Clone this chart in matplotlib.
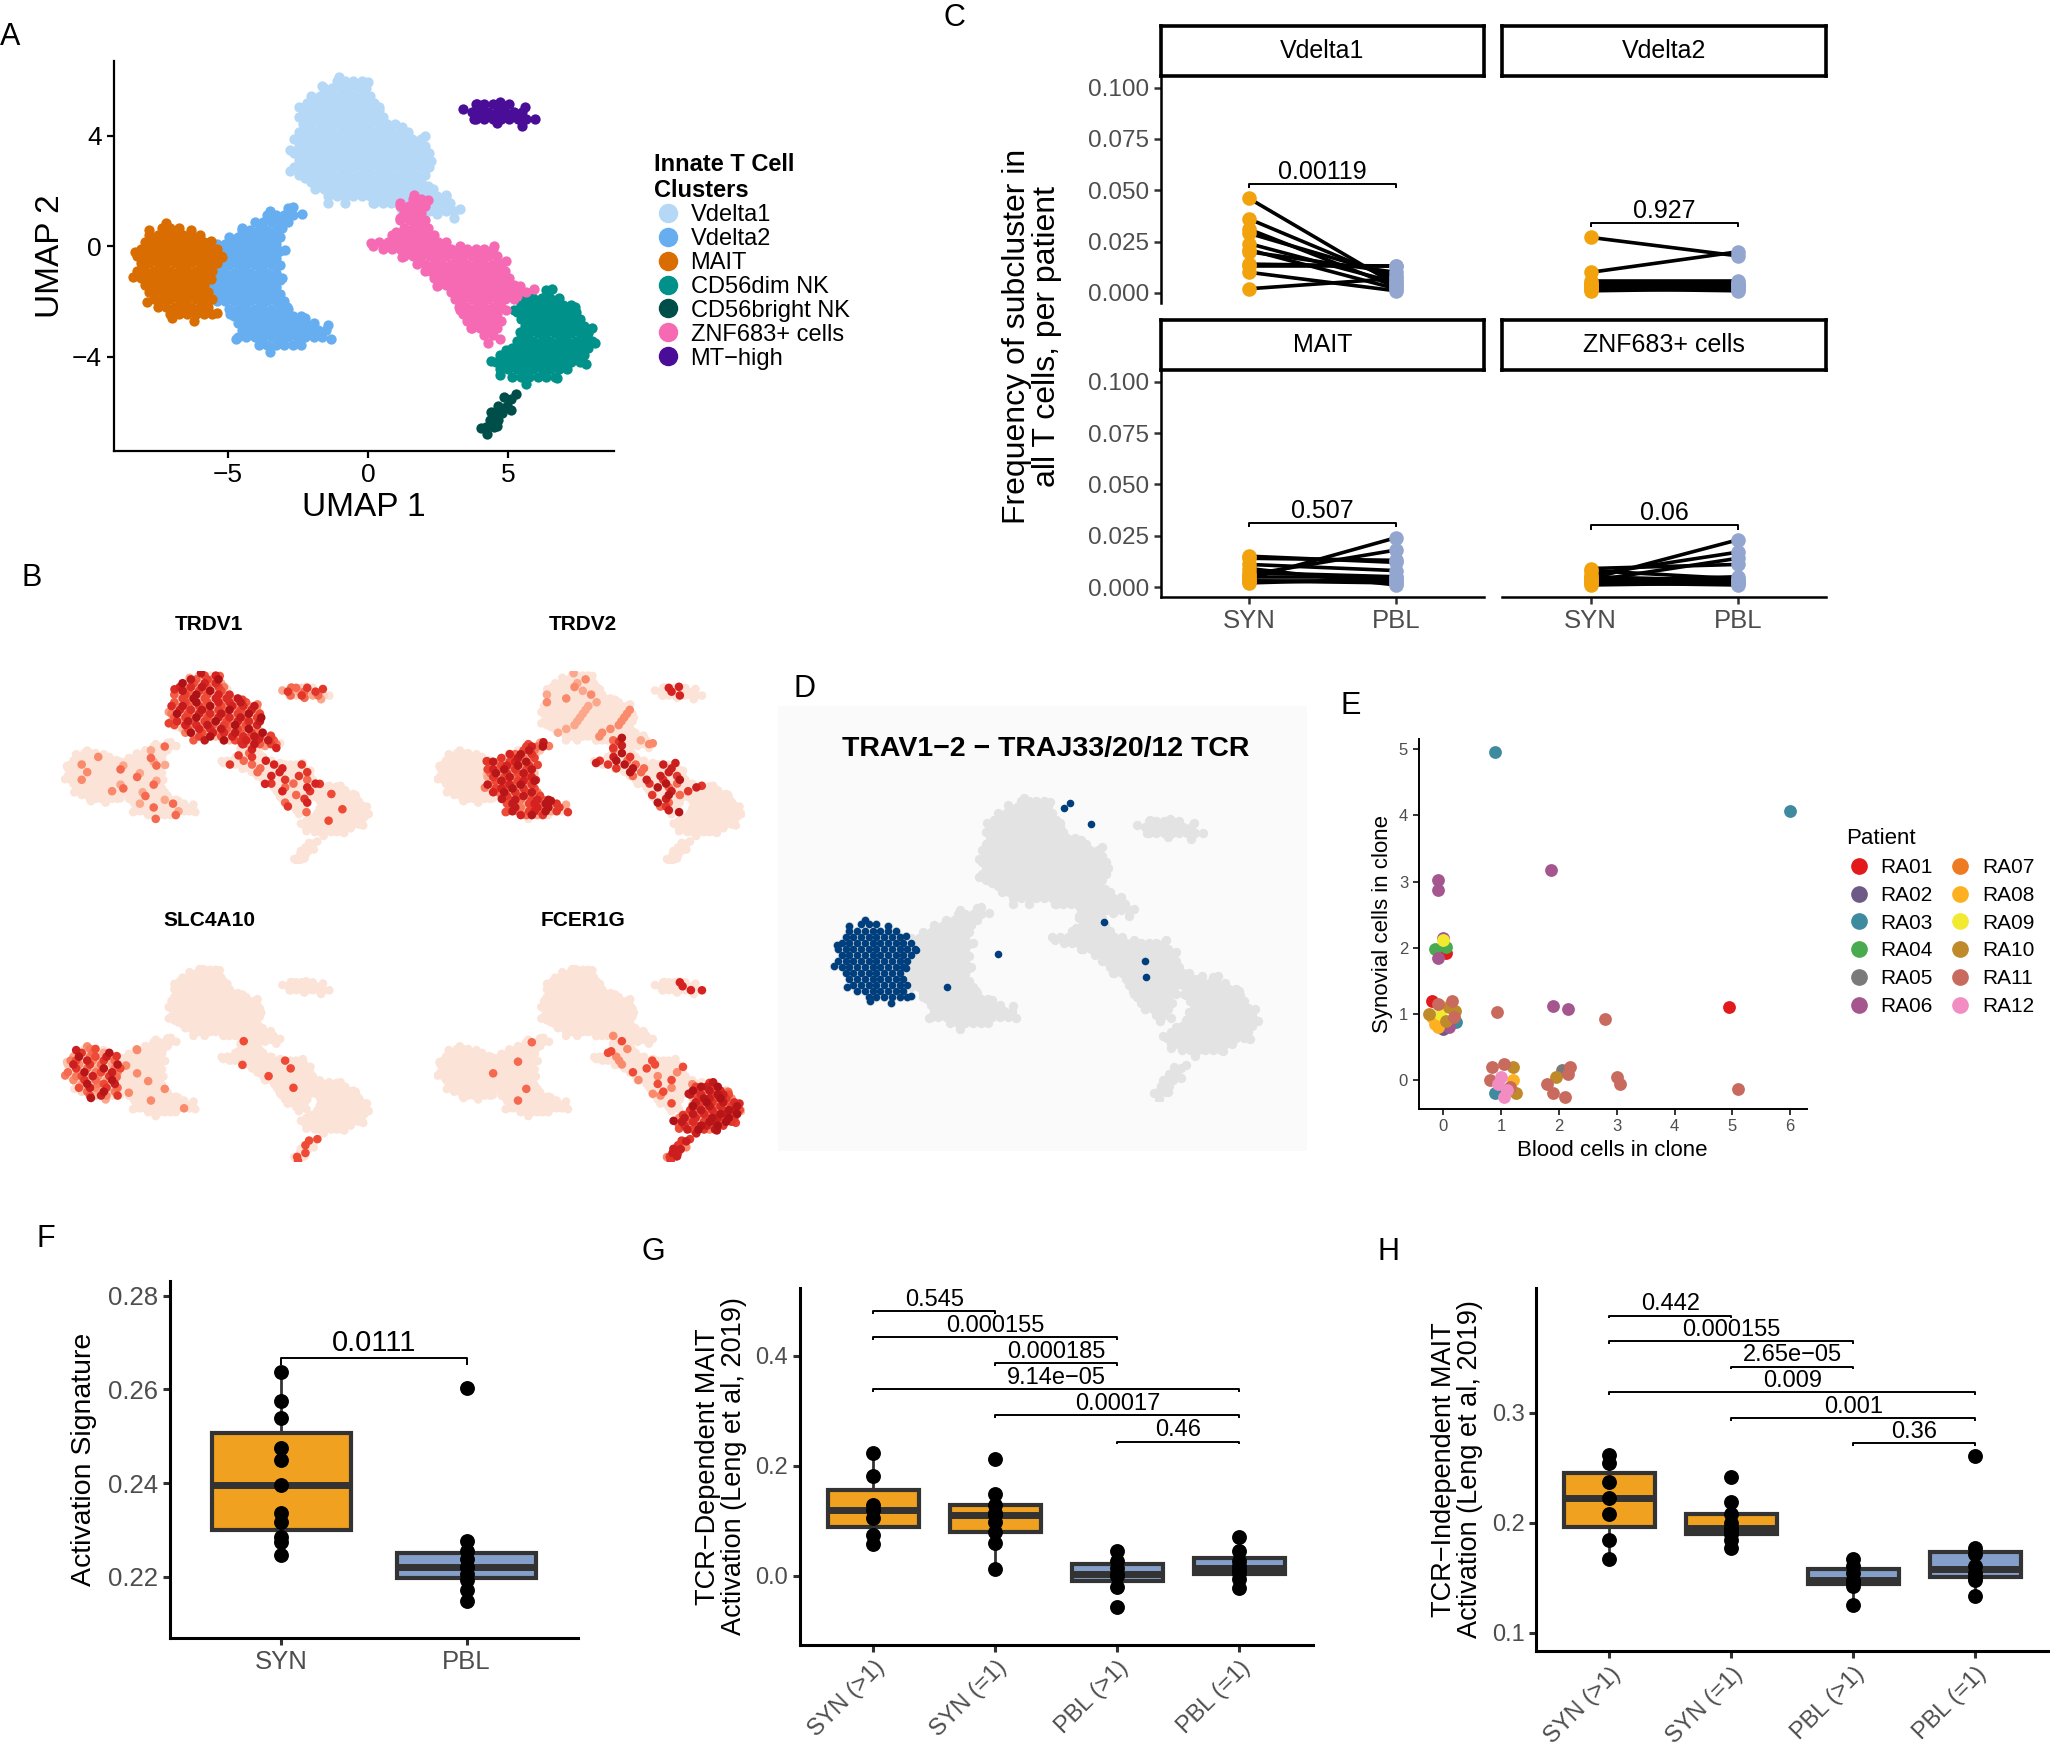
import numpy as np
import matplotlib
matplotlib.use("Agg")
import matplotlib.pyplot as plt
from matplotlib.path import Path
from matplotlib.colors import LinearSegmentedColormap
from matplotlib.lines import Line2D

plt.rcParams['font.family'] = ['Liberation Sans', 'DejaVu Sans']

# ---------------- data ----------------
# UMAP cluster outlines
clusters = ['Vdelta1', 'Vdelta2', 'MAIT', 'CD56dim NK', 'CD56bright NK', 'ZNF683+ cells', 'MT\u2212high']
cluster_colors = ['#B5D8F7', '#66AEF0', '#D96D02', '#00918A', '#004E4A', '#F66AB3', '#4A0D98']
outline_vd1 = [(-2.77, 3.48), (-2.46, 5.03), (-1.64, 5.81), (-1.02, 6.13), (0.0, 5.94), (0.41, 5.03),
               (1.23, 4.32), (2.05, 4.0), (2.25, 3.10), (2.15, 2.19), (2.77, 1.87), (3.28, 1.35),
               (3.07, 1.03), (2.46, 1.16), (1.23, 1.29), (0.2, 1.55), (-0.82, 1.55), (-1.43, 1.55),
               (-2.25, 2.45), (-2.77, 2.71)]
outline_vd2 = [(-5.74, 0.13), (-4.51, 0.65), (-3.48, 1.29), (-2.66, 1.42), (-2.36, 1.16), (-3.07, 0.65),
               (-2.97, -0.13), (-3.07, -1.16), (-2.87, -2.19), (-2.25, -2.58), (-1.43, -2.84),
               (-1.33, -3.35), (-3.48, -3.81), (-4.71, -3.35), (-4.92, -2.45), (-5.84, -1.68), (-5.74, -0.77)]
outline_mait = [(-8.3, -0.2), (-7.8, 0.6), (-7.2, 0.85), (-6.3, 0.6), (-5.6, 0.2), (-5.2, -0.4),
                (-5.6, -1.2), (-5.4, -2.4), (-6.2, -2.7), (-7.0, -2.6), (-7.9, -2.0), (-8.4, -1.1)]
outline_nkdim = [(5.43, -1.68), (6.56, -1.55), (7.38, -2.19), (7.99, -2.97), (8.09, -3.48), (7.79, -4.26),
                 (6.76, -4.77), (5.64, -4.97), (4.71, -4.65), (4.41, -4.13), (4.92, -3.74), (5.43, -3.10),
                 (5.23, -2.32)]
outline_nkbright = [(5.3, -5.35), (5.1, -5.9), (4.6, -6.5), (4.25, -6.8), (4.05, -6.55), (4.4, -6.0),
                    (4.85, -5.45)]
outline_znf = [(1.13, 1.55), (1.64, 1.87), (2.15, 1.68), (2.15, 0.65), (3.28, 0.0), (4.51, 0.0),
               (4.92, -0.52), (5.43, -1.42), (5.94, -1.55), (5.33, -1.81), (4.92, -2.32), (4.71, -3.35),
               (4.30, -3.48), (3.69, -2.97), (3.28, -2.32), (2.46, -1.42), (2.05, -0.90), (1.23, -0.39),
               (0.2, 0.0), (0.1, 0.13), (1.02, 0.52), (1.13, 1.03)]
outline_mt = [(3.4, 4.95), (3.9, 5.15), (4.7, 5.2), (5.6, 5.05), (5.95, 4.6), (5.5, 4.35), (4.6, 4.45),
              (3.8, 4.6)]
outlines = [outline_vd1, outline_vd2, outline_mait, outline_nkdim, outline_nkbright, outline_znf, outline_mt]

# per-cell expression levels in panel B (cycled over cells of each cluster)
expr_trdv1 = [[0.75, 0.3, 0.9, 0.55, 0.0, 0.65, 0.45, 1.0, 0.2, 0.6, 0.0, 0.8, 0.35],
              [0] * 5 + [0.5] + [0] * 8 + [0.3],
              [0] * 19 + [0.4], [0] * 30 + [0.6], [0],
              [0, 0, 0.7, 0, 0, 0, 0.5, 0, 0, 0, 0.8, 0, 0], [0.5, 0.1, 0.7, 0.0, 0.3]]
expr_trdv2 = [[0] * 6 + [0.4] + [0] * 8 + [0.3, 0], [0.8, 0.5, 0.95, 0.3, 0.7, 0.0, 0.6, 0.9, 0.45, 0.2, 0.65],
              [0], [0], [0],
              [0.85, 0, 0, 0.7, 0, 0, 0.95, 0, 0.5, 0, 0, 0, 0], [0, 0, 0, 0.8, 0, 0]]
expr_slc4a10 = [[0], [0] * 15 + [0.4], [0.6, 0.2, 0.85, 0.4, 0.0, 0.7, 0.1, 0.5, 0, 0.3, 0.95, 0, 0.45],
                [0], [0.6, 0, 0], [0] * 25 + [0.6], [0]]
expr_fcer1g = [[0], [0] * 30 + [0.5], [0], [0.85, 0.6, 1.0, 0.7, 0.4, 0.9, 0.5, 0.75, 0.2, 0.65, 0.95],
               [0.7, 0.4, 0.85],
               [0] * 4 + [0.6] + [0] * 7 + [0.4, 0], [0, 0, 0, 0, 0, 0.8]]
genes = ['TRDV1', 'TRDV2', 'SLC4A10', 'FCER1G']
gene_expr = [expr_trdv1, expr_trdv2, expr_slc4a10, expr_fcer1g]

# panel D: TRAV1-2 TCR cells outside the MAIT cluster
d_extra_x = [0.55, 0.8, 1.6, -2.0, 2.1, 3.7, 3.75, -4.0]
d_extra_y = [5.7, 5.9, 5.0, -0.6, 0.8, -0.9, -1.6, -2.0]

# panel C: frequency per patient
c_facets = ['Vdelta1', 'Vdelta2', 'MAIT', 'ZNF683+ cells']
c_syn = [[0.046, 0.036, 0.031, 0.029, 0.024, 0.021, 0.020, 0.014, 0.013, 0.010, 0.002],
         [0.027, 0.010, 0.006, 0.005, 0.004, 0.004, 0.003, 0.003, 0.002, 0.002, 0.001],
         [0.015, 0.014, 0.011, 0.009, 0.007, 0.006, 0.005, 0.004, 0.003, 0.003, 0.002],
         [0.009, 0.008, 0.006, 0.005, 0.004, 0.004, 0.003, 0.003, 0.002, 0.002, 0.001]]
c_pbl = [[0.004, 0.006, 0.003, 0.008, 0.005, 0.002, 0.010, 0.013, 0.013, 0.001, 0.007],
         [0.018, 0.020, 0.006, 0.004, 0.005, 0.003, 0.002, 0.004, 0.001, 0.003, 0.002],
         [0.012, 0.013, 0.008, 0.001, 0.005, 0.018, 0.005, 0.024, 0.002, 0.003, 0.004],
         [0.011, 0.004, 0.017, 0.003, 0.023, 0.002, 0.014, 0.005, 0.001, 0.003, 0.002]]
c_pvals = ['0.00119', '0.927', '0.507', '0.06']

# panel E: clone sizes (jittered positions as drawn)
patients = ['RA01', 'RA02', 'RA03', 'RA04', 'RA05', 'RA06', 'RA07', 'RA08', 'RA09', 'RA10', 'RA11', 'RA12']
patient_colors = ['#E31A1C', '#6E5A87', '#3E8A9F', '#4AAA4F', '#7A7A7A', '#A5568E',
                  '#EE7A22', '#FDB021', '#F2EA30', '#BF8A2A', '#C86A5E', '#F28DC3']
e_blood = [0.9, 6.0, 1.86, -0.1, -0.1, -0.1, -0.15, 0.05, 0.0, 0.0, 0.05,
           -0.2, -0.1, 0.15, 0.2, -0.2, -0.15, 0.0, 0.05, -0.05, 0.1, 0.22, -0.25, 0.1, -0.1, 0.18, 0.0,
           0.92, 1.9, 2.15, 2.8, 4.95,
           0.85, 1.2, 0.9, 1.15, 0.8, 1.05, 1.25, 1.2, 1.0, 1.1, 0.95, 1.05,
           1.8, 1.9, 2.1, 2.05, 2.15, 1.95, 2.2, 3.0, 3.05, 5.1]
e_syn = [4.96, 4.07, 3.18, 3.02, 2.87, 1.85, 1.98, 2.02, 2.15, 2.12, 1.92,
         1.2, 1.15, 1.2, 1.05, 0.95, 0.85, 1.1, 0.9, 1.0, 0.8, 0.88, 1.0, 1.1, 0.8, 0.95, 0.78,
         1.03, 1.12, 1.08, 0.92, 1.1,
         0.2, 0.2, -0.2, -0.1, 0.0, 0.25, -0.2, 0.0, 0.05, -0.15, -0.05, -0.25,
         -0.05, -0.2, -0.25, 0.15, 0.1, 0.05, 0.2, 0.05, -0.05, -0.13]
e_patient = ['RA03', 'RA03', 'RA06', 'RA06', 'RA06', 'RA06', 'RA04', 'RA04', 'RA06', 'RA09', 'RA01',
             'RA01', 'RA11', 'RA11', 'RA10', 'RA08', 'RA08', 'RA08', 'RA10', 'RA09', 'RA06', 'RA03', 'RA10',
             'RA10', 'RA08', 'RA11', 'RA02',
             'RA11', 'RA06', 'RA06', 'RA11', 'RA01',
             'RA11', 'RA10', 'RA03', 'RA11', 'RA11', 'RA11', 'RA10', 'RA08', 'RA12', 'RA12', 'RA12', 'RA12',
             'RA11', 'RA11', 'RA11', 'RA05', 'RA11', 'RA10', 'RA11', 'RA11', 'RA11', 'RA11']

# panel F: activation signature
f_groups = ['SYN', 'PBL']
f_syn = [0.2638, 0.2576, 0.2538, 0.2476, 0.2449, 0.2396, 0.2336, 0.2316, 0.2285, 0.2274, 0.2246]
f_pbl = [0.2604, 0.2277, 0.2255, 0.2237, 0.2222, 0.2220, 0.2207, 0.2193, 0.2171, 0.2148]
f_pval = '0.0111'

# panels G and H
gh_groups = ['SYN (>1)', 'SYN (=1)', 'PBL (>1)', 'PBL (=1)']
g_vals = [[0.223, 0.182, 0.129, 0.120, 0.105, 0.073, 0.058],
          [0.213, 0.148, 0.129, 0.114, 0.110, 0.098, 0.080, 0.060, 0.012],
          [0.045, 0.027, 0.014, 0.002, -0.001, -0.020, -0.057],
          [0.070, 0.045, 0.027, 0.017, 0.010, 0.005, -0.007, -0.023]]
h_vals = [[0.262, 0.254, 0.237, 0.223, 0.208, 0.184, 0.167],
          [0.242, 0.219, 0.208, 0.200, 0.195, 0.193, 0.190, 0.184, 0.177],
          [0.167, 0.161, 0.154, 0.148, 0.146, 0.142, 0.125],
          [0.261, 0.177, 0.172, 0.161, 0.154, 0.151, 0.148, 0.133]]
pairs = [(1, 2), (1, 3), (2, 3), (1, 4), (2, 4), (3, 4)]
g_pvals = ['0.545', '0.000155', '0.000185', '9.14e\u221205', '0.00017', '0.46']
h_pvals = ['0.442', '0.000155', '2.65e\u221205', '0.009', '0.001', '0.36']

SYN_COL = '#F1A20C'
PBL_COL = '#93A6CF'
BOX_SYN = '#EFA11F'
BOX_PBL = '#849FC9'
TICK_GRAY = '#4D4D4D'

# ---------------- helpers ----------------
W, H = 2050, 1757
S = 2050 / 1568.0   # layout measured on the 1568-px preview

fig = plt.figure(figsize=(20.5, 17.57), dpi=100)


def add_ax(l, t, r, b):
    return fig.add_axes([l * S / W, 1 - b * S / H, (r - l) * S / W, (b - t) * S / H])


def ftext(x, y, s, **kw):
    fig.text(x * S / W, 1 - y * S / H, s, **kw)


def cells_in(outline, step=0.3):
    poly = np.array(outline)
    path = Path(poly)
    xs = np.arange(poly[:, 0].min(), poly[:, 0].max() + step, step)
    ys = np.arange(poly[:, 1].min(), poly[:, 1].max() + step, step * 0.866)
    pts = []
    for j, y in enumerate(ys):
        off = step / 2 if j % 2 else 0
        for x in xs:
            pts.append((x + off, y))
    pts = np.array(pts)
    pts = pts[path.contains_points(pts)]
    return np.vstack([pts, poly])


cells = [cells_in(o) for o in outlines]


def classic(ax, lw=1.6, tickcol='black', labcol='black', size=17, ticklen=5):
    for s in ['top', 'right']:
        ax.spines[s].set_visible(False)
    for s in ['left', 'bottom']:
        ax.spines[s].set_linewidth(lw)
    ax.tick_params(width=lw, length=ticklen, color=tickcol, labelcolor=labcol, labelsize=size)
    ax.set_facecolor('none')


def bracket(ax, x1, x2, y, tip, label, size=16):
    ax.plot([x1, x1, x2, x2], [y - tip, y, y, y - tip], color='black', lw=1.4, solid_capstyle='butt')
    ax.text((x1 + x2) / 2, y + tip * 0.1, label, ha='center', va='bottom', fontsize=size)


UMAP_XL = (-8.6, 8.3)
UMAP_YL = (-6.9, 6.3)

# ---------------- panel A ----------------
axA = add_ax(87, 47, 470, 345)
for pts, col in zip(cells, cluster_colors):
    axA.scatter(pts[:, 0], pts[:, 1], s=55, color=col, linewidths=0)
axA.set_xlim(-9.07, 8.8)
axA.set_ylim(-7.4, 6.68)
axA.set_xticks([-5, 0, 5])
axA.set_yticks([-4, 0, 4])
axA.set_xticklabels(['\u22125', '0', '5'])
axA.set_yticklabels(['\u22124', '0', '4'])
classic(axA, size=19)
axA.set_xlabel('UMAP 1', fontsize=24)
axA.set_ylabel('UMAP 2', fontsize=24)
handles = [Line2D([], [], ls='', marker='o', ms=13, color=c) for c in cluster_colors]
leg = axA.legend(handles, clusters, loc='upper left', bbox_to_anchor=(1.06, 0.79), frameon=False,
                 fontsize=17, title='Innate T Cell\nClusters', title_fontproperties={'weight': 'bold', 'size': 17},
                 labelspacing=0.08, handletextpad=0.35, handlelength=1.2, borderaxespad=0)
leg._legend_box.align = 'left'

# ---------------- panel B ----------------
cmap = LinearSegmentedColormap.from_list('reds', ['#FCE3D7', '#FCC3AC', '#F98A6B', '#EF4A36', '#D52221', '#AE1217'])
b_boxes = [(47, 513, 285, 661), (332, 513, 570, 661), (47, 738, 285, 889), (332, 738, 570, 889)]
b_titles_y = [478, 478, 704, 704]
b_titles_x = [160, 446, 160, 446]
for gi, (gene, levels) in enumerate(zip(genes, gene_expr)):
    ax = add_ax(*b_boxes[gi])
    xs, ys, vs = [], [], []
    for pts, lv in zip(cells, levels):
        for k, p in enumerate(pts):
            xs.append(p[0]); ys.append(p[1]); vs.append(lv[k % len(lv)])
    order = np.argsort(vs, kind='stable')
    ax.scatter(np.array(xs)[order], np.array(ys)[order], s=38, c=np.array(vs)[order], cmap=cmap,
               vmin=0, vmax=1, linewidths=0)
    ax.set_xlim(*UMAP_XL)
    ax.set_ylim(*UMAP_YL)
    ax.axis('off')
    ftext(b_titles_x[gi], b_titles_y[gi], gene, ha='center', va='center', fontsize=15, fontweight='bold')

# ---------------- panel D ----------------
axDbg = add_ax(595, 540, 1000, 880)
axDbg.set_facecolor('#FAFAFA')
axDbg.set_xticks([]); axDbg.set_yticks([])
for s in axDbg.spines.values():
    s.set_visible(False)
axD = add_ax(634, 607, 966, 842)
for ci, pts in enumerate(cells):
    axD.scatter(pts[:, 0], pts[:, 1], s=45, color='#E3E3E3', linewidths=0)
mait_pts = cells[clusters.index('MAIT')]
axD.scatter(mait_pts[:, 0], mait_pts[:, 1], s=30, color='#003F7D', linewidths=0)
axD.scatter(d_extra_x, d_extra_y, s=30, color='#003F7D', linewidths=0)
axD.set_xlim(*UMAP_XL)
axD.set_ylim(*UMAP_YL)
axD.axis('off')
ftext(800, 573, 'TRAV1\u22122 \u2212 TRAJ33/20/12 TCR', ha='center', va='center', fontsize=20.5, fontweight='bold')

# ---------------- panel C ----------------
c_boxes = [(888, 58, 1135, 232), (1149, 58, 1397, 232), (888, 283, 1135, 457), (1149, 283, 1397, 457)]
for fi, facet in enumerate(c_facets):
    l, t, r, b = c_boxes[fi]
    ax = add_ax(l, t, r, b)
    syn, pbl = c_syn[fi], c_pbl[fi]
    for a, bb in zip(syn, pbl):
        ax.plot([1, 2], [a, bb], color='black', lw=2.6, zorder=2)
    ax.scatter([1] * len(syn), syn, s=110, color=SYN_COL, zorder=3, linewidths=0)
    ax.scatter([2] * len(pbl), pbl, s=110, color=PBL_COL, zorder=3, linewidths=0)
    ytop = max(max(syn), max(pbl)) + 0.007
    bracket(ax, 1, 2, ytop, 0.002, c_pvals[fi], size=18)
    ax.set_xlim(0.4, 2.6)
    ax.set_ylim(-0.0051, 0.1057)
    classic(ax, lw=1.8, tickcol='#333333', labcol=TICK_GRAY, size=17.5)
    ax.set_yticks([0, 0.025, 0.05, 0.075, 0.1])
    ax.set_yticklabels(['0.000', '0.025', '0.050', '0.075', '0.100'])
    ax.set_xticks([1, 2])
    ax.set_xticklabels(['SYN', 'PBL'], fontsize=18.5)
    if fi % 2 == 1:
        ax.spines['left'].set_visible(False)
        ax.tick_params(axis='y', left=False, labelleft=False)
    if fi < 2:
        ax.spines['bottom'].set_visible(False)
        ax.tick_params(axis='x', bottom=False, labelbottom=False)
    sax = add_ax(l, t - 38, r, t)
    sax.set_xticks([]); sax.set_yticks([])
    for s in sax.spines.values():
        s.set_linewidth(2.6)
    sax.text(0.5, 0.5, facet, ha='center', va='center', fontsize=18, transform=sax.transAxes)
ftext(789, 257, 'Frequency of subcluster in\nall T cells, per patient', rotation=90, ha='center',
      va='center', fontsize=23, linespacing=1.0)

# ---------------- panel E ----------------
axE = add_ax(1085, 565, 1382, 848)
pcol = dict(zip(patients, patient_colors))
for p in patients:
    idx = [i for i, q in enumerate(e_patient) if q == p]
    axE.scatter([e_blood[i] for i in idx], [e_syn[i] for i in idx], s=85, color=pcol[p], linewidths=0)
axE.set_xlim(-0.43, 6.29)
axE.set_ylim(-0.43, 5.16)
axE.set_xticks(range(7))
axE.set_yticks(range(6))
classic(axE, lw=1.4, tickcol='#333333', labcol=TICK_GRAY, size=12, ticklen=4)
axE.set_xlabel('Blood cells in clone', fontsize=16)
axE.set_ylabel('Synovial cells in clone', fontsize=16)
ph = [Line2D([], [], ls='', marker='o', ms=11, color=c) for c in patient_colors]
legE = axE.legend(ph, patients, ncol=2, loc='upper left', bbox_to_anchor=(1.08, 0.78), frameon=False,
                  fontsize=15, title='Patient', title_fontsize=16, labelspacing=0.42, handletextpad=0.45,
                  columnspacing=0.7, handlelength=1.2, borderaxespad=0)
legE._legend_box.align = 'left'


# ---------------- box panels ----------------
def box_panel(ax, vals, cols):
    bp = ax.boxplot(vals, positions=range(1, len(vals) + 1), widths=0.75, patch_artist=True,
                    showfliers=False, showcaps=False, whis=1.5,
                    medianprops=dict(color='#333333', lw=5, solid_capstyle='butt'),
                    whiskerprops=dict(color='#333333', lw=2),
                    boxprops=dict(edgecolor='#333333', lw=3))
    for patch, c in zip(bp['boxes'], cols):
        patch.set_facecolor(c)
    for i, v in enumerate(vals):
        ax.scatter([i + 1] * len(v), v, s=115, color='black', zorder=4, linewidths=0)


# F
axF = add_ax(130, 980, 442, 1253)
box_panel(axF, [f_syn, f_pbl], [BOX_SYN, BOX_PBL])
bracket(axF, 1, 2, max(f_syn) + 0.003, 0.0016, f_pval, size=21)
axF.set_xlim(0.4, 2.6)
axF.set_ylim(0.2069, 0.2831)
axF.set_yticks([0.22, 0.24, 0.26, 0.28])
axF.set_yticklabels(['0.22', '0.24', '0.26', '0.28'])
axF.set_xticks([1, 2])
axF.set_xticklabels(f_groups)
classic(axF, lw=2.2, tickcol='#333333', labcol=TICK_GRAY, size=18.5)
axF.set_ylabel('Activation Signature', fontsize=20.5, labelpad=8)


def gh_panel(box, vals, pvals, ylim, yticks, ylab):
    ax = add_ax(*box)
    box_panel(ax, vals, [BOX_SYN, BOX_SYN, BOX_PBL, BOX_PBL])
    allv = np.concatenate(vals)
    rng = allv.max() - allv.min()
    base = allv.max() + 0.075 * rng
    step = 0.17 * rng
    n = len(pairs)
    for k, ((a, b), lab) in enumerate(zip(pairs, pvals)):
        y = base + (n - 1 - k) * step
        bracket(ax, a, b, y, 0.02 * rng * 0.9, lab, size=17)
    ax.set_xlim(0.4, 4.6)
    ax.set_ylim(*ylim)
    ax.set_yticks(yticks)
    ax.set_yticklabels(['%.1f' % v for v in yticks])
    ax.set_xticks(range(1, 5))
    ax.set_xticklabels(gh_groups, rotation=45, ha='right', rotation_mode='anchor')
    classic(ax, lw=2.2, tickcol='#333333', labcol=TICK_GRAY, size=17)
    ax.set_ylabel(ylab, fontsize=19.5, linespacing=1.0, labelpad=6)
    return ax


gh_panel((612, 985, 1004, 1258), g_vals, g_pvals, (-0.126, 0.524), [0.0, 0.2, 0.4],
         'TCR\u2212Dependent MAIT\nActivation (Leng et al, 2019)')
gh_panel((1175, 985, 1567, 1263), h_vals, h_pvals, (0.083, 0.414), [0.1, 0.2, 0.3],
         'TCR\u2212Independent MAIT\nActivation (Leng et al, 2019)')

# panel letters
for lab, x, y in [('A', 8, 28), ('B', 24, 442), ('C', 730, 14), ('D', 615, 527), ('E', 1033, 540),
                  ('F', 35, 948), ('G', 500, 958), ('H', 1062, 958)]:
    ftext(x, y, lab, ha='center', va='center', fontsize=22)

fig.savefig('out.png', dpi=100)
